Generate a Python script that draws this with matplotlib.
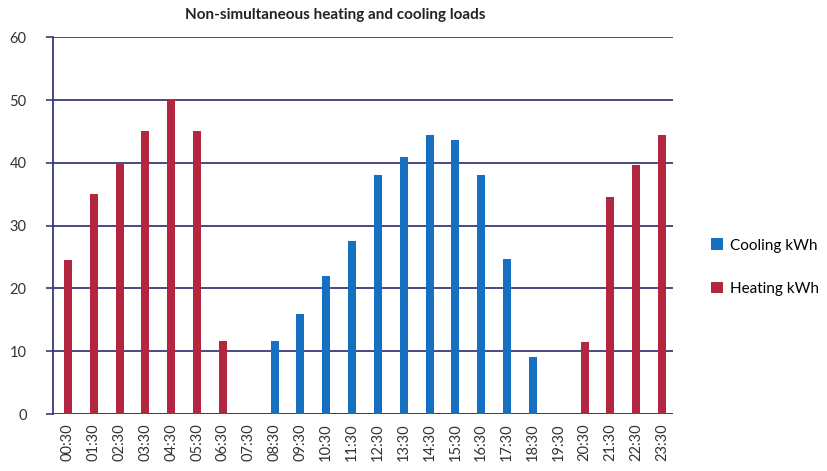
import matplotlib.pyplot as plt
import numpy as np

plt.rcParams["font.family"] = ["Lato", "DejaVu Sans"]

times = ["00:30", "01:30", "02:30", "03:30", "04:30", "05:30", "06:30", "07:30",
         "08:30", "09:30", "10:30", "11:30", "12:30", "13:30", "14:30", "15:30",
         "16:30", "17:30", "18:30", "19:30", "20:30", "21:30", "22:30", "23:30"]
cooling = [0, 0, 0, 0, 0, 0, 0, 0,
           11.6, 16, 22, 27.5, 38, 41, 44.5, 43.7,
           38, 24.7, 9, 0, 0, 0, 0, 0]
heating = [24.5, 35, 40, 45, 50, 45, 11.6, 0,
           0, 0, 0, 0, 0, 0, 0, 0,
           0, 0, 0, 0, 11.5, 34.5, 39.6, 44.5]
yticks = [0, 10, 20, 30, 40, 50, 60]

cool_c = "#1570c2"
heat_c = "#b3263f"
grid_c = "#383b78"

fig = plt.figure(figsize=(8.27, 4.71), dpi=100)
ax = fig.add_axes([0.064, 0.121, 0.75, 0.80])

x = np.arange(len(times))
ax.bar(x, cooling, width=0.31, color=cool_c, label="Cooling kWh", zorder=3)
ax.bar(x, heating, width=0.31, color=heat_c, label="Heating kWh", zorder=3)

ax.set_ylim(0, 60)
ax.set_xlim(-0.58, 23.43)
ax.set_yticks(yticks)
ax.set_yticklabels([str(v) for v in yticks], fontsize=10.5, color="#333333")
ax.set_xticks(x)
ax.set_xticklabels(times, rotation=90, fontsize=10.5, color="#333333")
ax.tick_params(axis="y", length=5, width=1.2, color=grid_c, pad=14)
ax.tick_params(axis="x", length=0, pad=7)

ax.yaxis.grid(True, color=grid_c, linewidth=1.3, zorder=1)
ax.set_axisbelow(True)
for side in ("top", "right", "bottom"):
    ax.spines[side].set_visible(False)
ax.spines["left"].set_color(grid_c)
ax.spines["left"].set_linewidth(1.3)
ax.axhline(0, color=grid_c, linewidth=1.3, zorder=2)

fig.text(0.405, 0.968, "Non-simultaneous heating and cooling loads",
         ha="center", va="center", fontsize=11, fontweight="bold", color="#222222")

handles, labels = ax.get_legend_handles_labels()
fig.legend(handles, labels, loc="center left", bbox_to_anchor=(0.843, 0.433),
           frameon=False, fontsize=11, handlelength=0.8, handleheight=0.8,
           handletextpad=0.45, labelspacing=1.9)

fig.savefig("out.png", dpi=100, facecolor="white")
